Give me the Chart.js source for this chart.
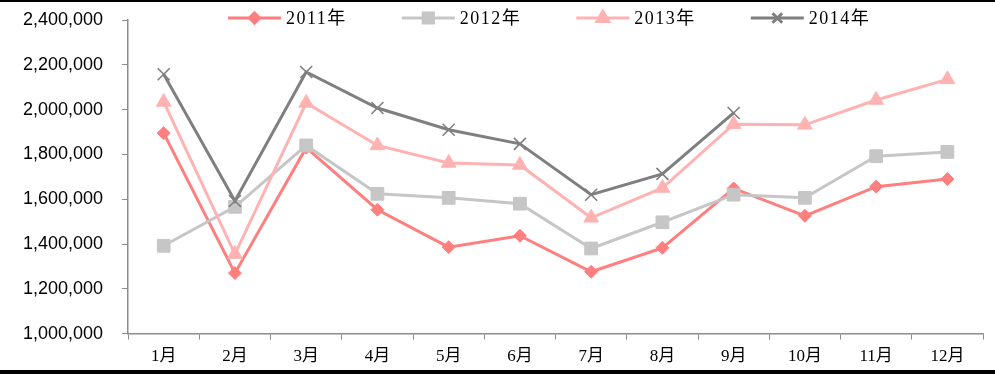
<!DOCTYPE html>
<html>
<head>
<meta charset="utf-8">
<script src="https://cdn.jsdelivr.net/npm/chart.js@4"></script>
<style>
  html, body { margin: 0; padding: 0; background: #fff; }
  #wrap { position: relative; width: 995px; height: 374px; }
  #bar-top { position: absolute; left: 0; top: 0; width: 995px; height: 2px; background: #000; }
  #bar-bottom { position: absolute; left: 0; top: 370px; width: 995px; height: 4px; background: #000; }
</style>
</head>
<body>
<div id="wrap">
  <canvas id="salesChart" width="995" height="374"></canvas>
  <div id="bar-top"></div>
  <div id="bar-bottom"></div>
</div>
<script>
const months = ['1月', '2月', '3月', '4月', '5月', '6月', '7月', '8月', '9月', '10月', '11月', '12月'];
const years = ['2011年', '2012年', '2013年', '2014年'];

const sales2011 = [1895000, 1270000, 1830000, 1553000, 1386000, 1437000, 1276000, 1383000, 1648000, 1526000, 1656000, 1690000];
const sales2012 = [1392000, 1566000, 1840000, 1624000, 1606000, 1580000, 1380000, 1497000, 1620000, 1606000, 1792000, 1811000];
const sales2013 = [2034000, 1355000, 2030000, 1840000, 1762000, 1753000, 1517000, 1650000, 1935000, 1932000, 2043000, 2135000];
const sales2014 = [2158000, 1592000, 2168000, 2007000, 1910000, 1847000, 1620000, 1713000, 1985000, null, null, null];

const yTicks = [1000000, 1200000, 1400000, 1600000, 1800000, 2000000, 2200000, 2400000];

const serifFont = '"Liberation Serif", "Noto Sans CJK SC", serif';
const axisColor = '#8c8c8c';

function series(label, data, color, style, radius, order) {
    return {
        label: label,
        data: data,
        borderColor: color,
        backgroundColor: color,
        borderWidth: 3,
        tension: 0,
        pointStyle: style,
        pointRadius: radius,
        pointHoverRadius: radius,
        pointBackgroundColor: color,
        pointBorderColor: color,
        pointBorderWidth: style === 'crossRot' ? 1.6 : 1,
        order: order
    };
}

// legend drawn as line + marker + label, sitting over the top of the plot
const lineLegend = {
    id: 'lineLegend',
    afterDraw(chart) {
        const ctx = chart.ctx;
        const sets = chart.data.datasets;
        let x = 228;
        const y = 18;
        ctx.save();
        ctx.font = '18px ' + serifFont;
        ctx.textBaseline = 'middle';
        ctx.textAlign = 'left';
        if ('letterSpacing' in ctx) ctx.letterSpacing = '1.5px';
        sets.forEach(ds => {
            ctx.strokeStyle = ds.borderColor;
            ctx.fillStyle = ds.borderColor;
            ctx.lineWidth = 3;
            ctx.beginPath();
            ctx.moveTo(x, y);
            ctx.lineTo(x + 53, y);
            ctx.stroke();
            Chart.helpers.drawPoint(ctx, {
                pointStyle: ds.pointStyle,
                radius: ds.pointRadius * 0.8,
                rotation: 0,
                borderWidth: ds.pointBorderWidth
            }, x + 26.5, y);
            ctx.fillStyle = '#000';
            ctx.fillText(ds.label, x + 58, y + 1);
            x += 58 + ctx.measureText(ds.label).width + 55;
        });
        ctx.restore();
    }
};

new Chart(document.getElementById('salesChart').getContext('2d'), {
    type: 'line',
    data: {
        labels: months,
        datasets: [
            series(years[0], sales2011, '#ff7f7f', 'rectRot', 6.5, 4),
            series(years[1], sales2012, '#c6c6c6', 'rect', 9, 3),
            series(years[2], sales2013, '#ffb2b2', 'triangle', 8.5, 2),
            series(years[3], sales2014, '#7f7f7f', 'crossRot', 8.5, 1)
        ]
    },
    options: {
        responsive: false,
        animation: false,
        layout: { padding: { top: 20, right: 12, bottom: 0, left: 4 } },
        plugins: {
            legend: { display: false },
            tooltip: { enabled: false }
        },
        scales: {
            x: {
                offset: true,
                grid: { offset: true, drawOnChartArea: false, drawTicks: true, tickLength: 6, color: axisColor },
                border: { display: true, color: axisColor, width: 1.5 },
                ticks: { color: '#000', padding: 7, font: { family: serifFont, size: 17 } }
            },
            y: {
                min: 1000000,
                max: 2400000,
                afterBuildTicks(scale) {
                    scale.ticks = yTicks.map(v => ({ value: v }));
                },
                // the wide label gap shouldn't push the plot down
                afterFit(scale) {
                    scale.paddingTop = 0;
                    scale.paddingBottom = 0;
                },
                grid: { drawOnChartArea: false, drawTicks: true, tickLength: 6, color: axisColor },
                border: { display: true, color: axisColor, width: 1.5 },
                ticks: {
                    color: '#000',
                    padding: 19,
                    font: { family: '"Liberation Sans", Arial, sans-serif', size: 18 },
                    callback: v => v.toLocaleString('en-US')
                }
            }
        }
    },
    plugins: [lineLegend]
});
</script>
</body>
</html>
